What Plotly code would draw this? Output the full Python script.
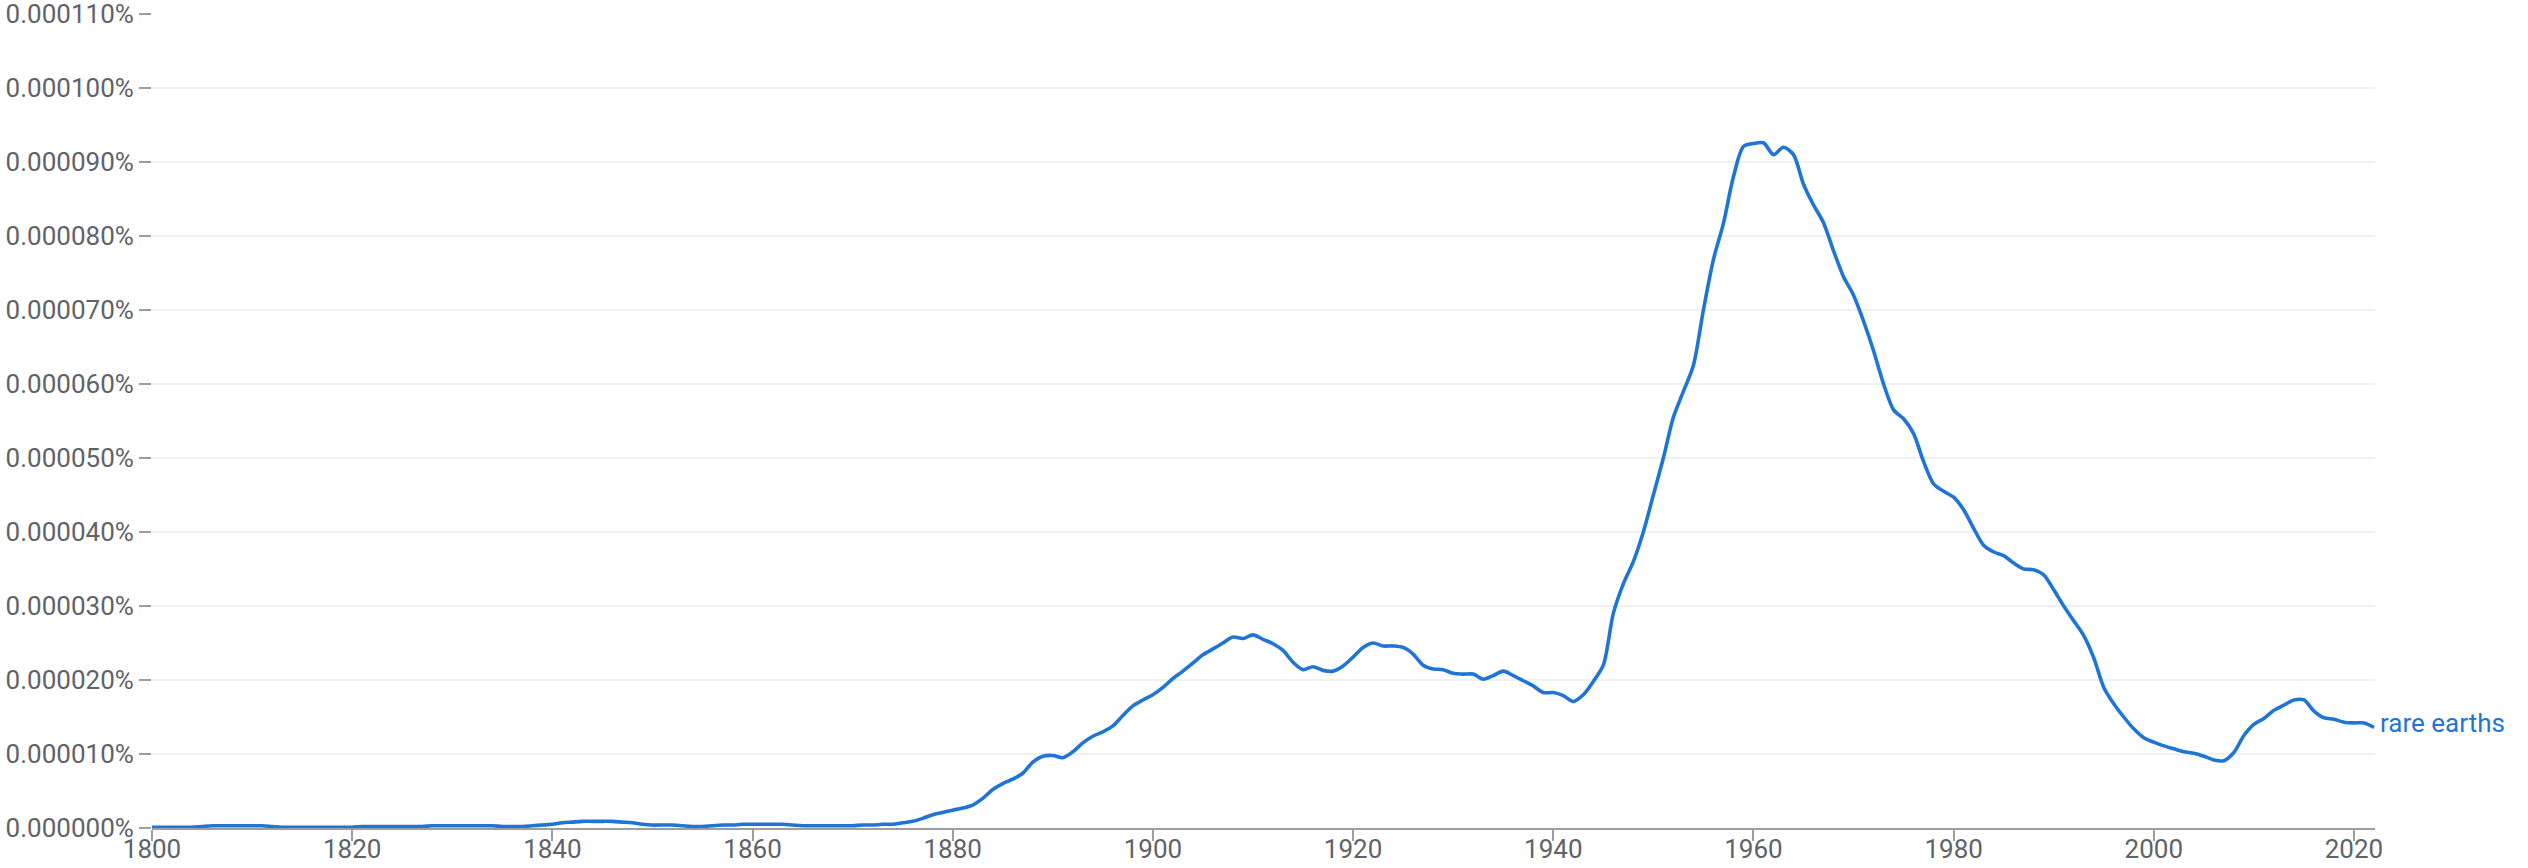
"""
Ngram-style frequency chart for "rare earths", 1800-2022
"""

import plotly.graph_objects as go

# ============================================================================
# DATA (values in millionths of a percent)
# ============================================================================

years = list(range(1800, 2023))

rare_earths = [
    0.1, 0.1, 0.1, 0.1, 0.1, 0.2, 0.3, 0.3, 0.3, 0.3,          # 1800s
    0.3, 0.3, 0.2, 0.1, 0.1, 0.1, 0.1, 0.1, 0.1, 0.1,          # 1810s
    0.1, 0.2, 0.2, 0.2, 0.2, 0.2, 0.2, 0.2, 0.3, 0.3,          # 1820s
    0.3, 0.3, 0.3, 0.3, 0.3, 0.2, 0.2, 0.2, 0.3, 0.4,          # 1830s
    0.5, 0.7, 0.8, 0.9, 0.9, 0.9, 0.9, 0.8, 0.7, 0.5,          # 1840s
    0.4, 0.4, 0.4, 0.3, 0.2, 0.2, 0.3, 0.4, 0.4, 0.5,          # 1850s
    0.5, 0.5, 0.5, 0.5, 0.4, 0.3, 0.3, 0.3, 0.3, 0.3,          # 1860s
    0.3, 0.4, 0.4, 0.5, 0.5, 0.7, 0.9, 1.3, 1.8, 2.1,          # 1870s
    2.4, 2.7, 3.1, 4.0, 5.2, 6.0, 6.6, 7.4, 8.9, 9.7,          # 1880s
    9.8, 9.5, 10.3, 11.5, 12.4, 13.0, 13.8, 15.2, 16.5, 17.3,  # 1890s
    18.0, 19.0, 20.2, 21.2, 22.3, 23.4, 24.2, 25.0, 25.8, 25.6,  # 1900s
    26.1, 25.5, 24.9, 24.0, 22.4, 21.4, 21.8, 21.3, 21.2, 21.9,  # 1910s
    23.1, 24.4, 25.0, 24.6, 24.6, 24.4, 23.5, 22.0, 21.5, 21.4,  # 1920s
    20.9, 20.8, 20.8, 20.1, 20.6, 21.2, 20.6, 19.9, 19.2, 18.3,  # 1930s
    18.3, 17.9, 17.1, 18.0, 19.8, 22.0, 29.0, 33.0, 36.0, 40.0,  # 1940s
    45.0, 50.0, 55.5, 59.0, 62.5, 70.0, 76.8, 81.7, 88.0, 92.1,  # 1950s
    92.5, 92.6, 91.0, 92.0, 91.0, 87.0, 84.2, 81.8, 78.0, 74.5,  # 1960s
    72.0, 68.5, 64.5, 60.0, 56.5, 55.3, 53.3, 49.5, 46.5, 45.5,  # 1970s
    44.7, 43.0, 40.5, 38.2, 37.3, 36.8, 35.8, 35.0, 34.9, 34.2,  # 1980s
    32.2, 30.0, 28.0, 26.0, 23.0, 19.0, 16.8, 15.0, 13.4, 12.2,  # 1990s
    11.6, 11.1, 10.7, 10.3, 10.1, 9.7, 9.2, 9.1, 10.2, 12.5,   # 2000s
    14.0, 14.8, 15.9, 16.6, 17.3, 17.3, 15.8, 14.9, 14.7, 14.3,  # 2010s
    14.2, 14.2, 13.6,                                          # 2020s
]

series_name = 'rare earths'
x_ticks = list(range(1800, 2021, 20))

# ============================================================================
# PLOT
# ============================================================================

LINE_COLOR = '#1f75d6'
TEXT_COLOR = '#5f6368'
AXIS_COLOR = '#9e9e9e'
FONT = 'Roboto'

# convert millionths of a percent to percent
y_pct = [v * 1e-6 for v in rare_earths]

fig = go.Figure()

fig.add_trace(
    go.Scatter(x=years, y=y_pct,
               mode='lines', name=series_name,
               line=dict(color=LINE_COLOR, width=3.6, shape='spline', smoothing=0.8))
)

# series label at the end of the line
fig.add_annotation(
    x=years[-1], y=y_pct[-1], text=series_name,
    xanchor='left', yanchor='middle', xshift=4, yshift=4, showarrow=False,
    font=dict(family=FONT, size=26, color=LINE_COLOR)
)

fig.update_xaxes(
    range=[1800, 2022.1],
    tickvals=x_ticks,
    showgrid=False, zeroline=False, automargin=False,
    showline=True, linecolor=AXIS_COLOR, linewidth=2,
    ticks='outside', ticklen=11, tickwidth=2, tickcolor=AXIS_COLOR,
    ticklabeloverflow='allow', ticklabelstandoff=-14,
    tickfont=dict(family=FONT, size=26, color=TEXT_COLOR),
)
fig.update_yaxes(
    range=[0, 0.00011],
    dtick=0.00001,
    tickformat='.6f', ticksuffix='%',
    showgrid=True, gridcolor='#f1f1f1', gridwidth=2,
    zeroline=False, showline=False, automargin=False,
    ticks='outside', ticklen=12, tickwidth=2, tickcolor=AXIS_COLOR,
    ticklabeloverflow='allow',
    tickfont=dict(family=FONT, size=26, color=TEXT_COLOR),
)

fig.update_layout(
    width=2528, height=868,
    margin=dict(l=152, r=153, t=14, b=40),
    plot_bgcolor='white', paper_bgcolor='white',
    showlegend=False,
)

# drop the browser's default body margin so the figure sits at the page corner
fig.write_html("out.html", config={'displayModeBar': False},
               post_script="document.body.style.margin='0px';")
